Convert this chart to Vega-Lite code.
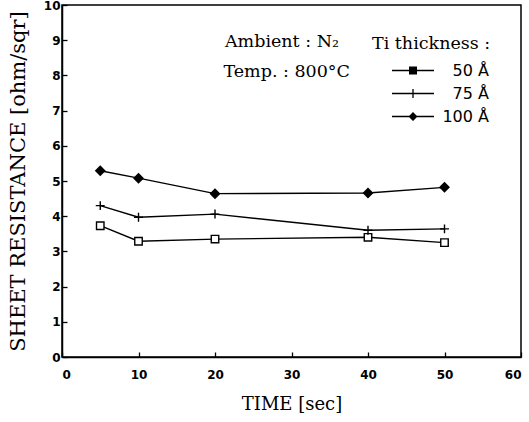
{
  "$schema": "https://vega.github.io/schema/vega-lite/v6.json",
  "width": 459,
  "height": 352,
  "autosize": {"type": "none"},
  "padding": {"left": 62, "top": 5, "right": 8, "bottom": 65},
  "background": "white",
  "config": {
    "view": {"stroke": "black", "strokeWidth": 1.5},
    "axis": {
      "grid": false,
      "domainColor": "black",
      "domainWidth": 1.5,
      "tickColor": "black",
      "tickWidth": 1.3,
      "tickSize": -5,
      "labelOverlap": false,
      "labelFont": "DejaVu Sans",
      "labelFontWeight": "bold",
      "labelFontSize": 12,
      "labelColor": "black",
      "titleFont": "DejaVu Serif",
      "titleFontWeight": "normal",
      "titleColor": "black"
    }
  },
  "data": {
    "values": [
      {"time": 5, "thickness": "50 Å", "resistance": 3.73},
      {"time": 10, "thickness": "50 Å", "resistance": 3.29},
      {"time": 20, "thickness": "50 Å", "resistance": 3.35},
      {"time": 40, "thickness": "50 Å", "resistance": 3.4},
      {"time": 50, "thickness": "50 Å", "resistance": 3.25},
      {"time": 5, "thickness": "75 Å", "resistance": 4.3},
      {"time": 10, "thickness": "75 Å", "resistance": 3.97},
      {"time": 20, "thickness": "75 Å", "resistance": 4.06},
      {"time": 40, "thickness": "75 Å", "resistance": 3.6},
      {"time": 50, "thickness": "75 Å", "resistance": 3.64},
      {"time": 5, "thickness": "100 Å", "resistance": 5.29},
      {"time": 10, "thickness": "100 Å", "resistance": 5.08},
      {"time": 20, "thickness": "100 Å", "resistance": 4.64},
      {"time": 40, "thickness": "100 Å", "resistance": 4.66},
      {"time": 50, "thickness": "100 Å", "resistance": 4.82}
    ]
  },
  "layer": [
    {
      "encoding": {
        "x": {
          "field": "time",
          "type": "quantitative",
          "scale": {"domain": [0, 60], "nice": false},
          "axis": {
            "title": "TIME [sec]",
            "titleFontSize": 18,
            "values": [0, 10, 20, 30, 40, 50, 60],
            "labelPadding": 17,
            "titlePadding": 15
          }
        },
        "y": {
          "field": "resistance",
          "type": "quantitative",
          "scale": {"domain": [0, 10], "nice": false},
          "axis": {
            "title": "SHEET RESISTANCE [ohm/sqr]",
            "titleFontSize": 21,
            "values": [0, 1, 2, 3, 4, 5, 6, 7, 8, 9, 10],
            "labelPadding": 7,
            "titlePadding": 15
          }
        }
      },
      "layer": [
        {
          "mark": {"type": "line", "color": "black", "strokeWidth": 1.4},
          "encoding": {"detail": {"field": "thickness"}}
        },
        {
          "mark": {"type": "point", "stroke": "black", "strokeWidth": 1.4, "opacity": 1},
          "encoding": {
            "shape": {
              "field": "thickness",
              "type": "nominal",
              "scale": {
                "domain": ["50 Å", "75 Å", "100 Å"],
                "range": ["square", "M-1,0H1M0,-1V1", "diamond"]
              },
              "legend": null
            },
            "size": {
              "condition": {"test": "datum.thickness === '50 Å'", "value": 56},
              "value": 80
            },
            "fill": {
              "condition": {"test": "datum.thickness === '100 Å'", "value": "black"},
              "value": "white"
            }
          }
        },
        {
          "mark": {"type": "point", "filled": false, "fill": "black", "stroke": "black", "strokeWidth": 1.4, "opacity": 0},
          "encoding": {
            "shape": {
              "field": "thickness",
              "type": "nominal",
              "scale": {
                "domain": ["50 Å", "75 Å", "100 Å"],
                "range": [
                  "M-4.2,-0.13H4.2V0.13H-4.2ZM-0.8,-0.8H0.8V0.8H-0.8Z",
                  "M-4.2,-0.13H4.2V0.13H-4.2ZM-0.13,-0.9H0.13V0.9H-0.13Z",
                  "M-4.2,-0.13H4.2V0.13H-4.2ZM0,-0.9L0.9,0L0,0.9L-0.9,0Z"
                ]
              },
              "legend": {
                "title": "Ti thickness :",
                "orient": "none",
                "legendX": 310,
                "legendY": 30,
                "titleFont": "DejaVu Serif",
                "titleFontWeight": "normal",
                "titleFontSize": 17.5,
                "titleColor": "black",
                "titlePadding": 10,
                "labelFont": "DejaVu Sans",
                "labelFontSize": 16,
                "labelColor": "black",
                "labelAlign": "right",
                "symbolOffset": 33,
                "labelOffset": 68,
                "rowPadding": 7,
                "symbolSize": 100,
                "symbolOpacity": 1,
                "symbolFillColor": "black",
                "symbolStrokeColor": "black",
                "symbolStrokeWidth": 0
              }
            },
            "size": {"value": 100}
          }
        }
      ],
      "resolve": {"scale": {"shape": "independent"}, "legend": {"shape": "independent"}}
    },
    {
      "data": {"values": [{}]},
      "mark": {"type": "text", "font": "DejaVu Serif", "fontSize": 17.5, "align": "left", "baseline": "middle", "fill": "black"},
      "encoding": {
        "x": {
          "datum": 21.3,
          "type": "quantitative",
          "axis": {
            "title": "TIME [sec]",
            "titleFontSize": 18,
            "values": [0, 10, 20, 30, 40, 50, 60],
            "labelPadding": 17,
            "titlePadding": 15
          }
        },
        "y": {
          "datum": 8.95,
          "type": "quantitative",
          "axis": {
            "title": "SHEET RESISTANCE [ohm/sqr]",
            "titleFontSize": 21,
            "values": [0, 1, 2, 3, 4, 5, 6, 7, 8, 9, 10],
            "labelPadding": 7,
            "titlePadding": 15
          }
        },
        "text": {"value": "Ambient : N₂"}
      }
    },
    {
      "data": {"values": [{}]},
      "mark": {"type": "text", "font": "DejaVu Serif", "fontSize": 17.5, "align": "left", "baseline": "middle", "fill": "black"},
      "encoding": {
        "x": {
          "datum": 21.1,
          "type": "quantitative",
          "axis": {
            "title": "TIME [sec]",
            "titleFontSize": 18,
            "values": [0, 10, 20, 30, 40, 50, 60],
            "labelPadding": 17,
            "titlePadding": 15
          }
        },
        "y": {
          "datum": 8.1,
          "type": "quantitative",
          "axis": {
            "title": "SHEET RESISTANCE [ohm/sqr]",
            "titleFontSize": 21,
            "values": [0, 1, 2, 3, 4, 5, 6, 7, 8, 9, 10],
            "labelPadding": 7,
            "titlePadding": 15
          }
        },
        "text": {"value": "Temp. : 800°C"}
      }
    }
  ]
}
